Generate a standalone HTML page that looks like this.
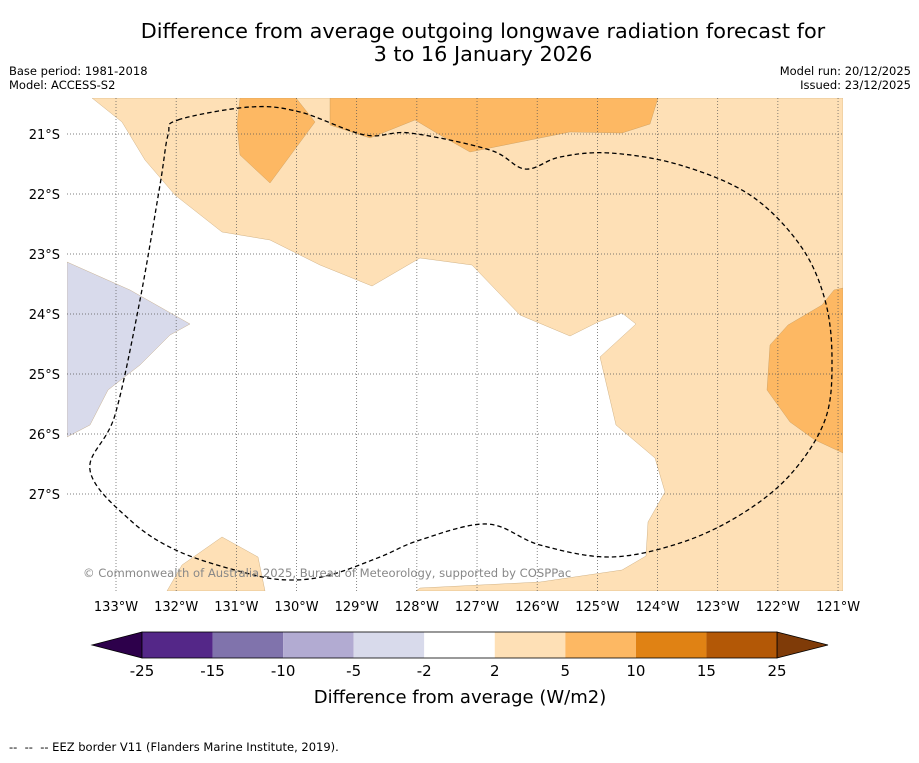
<!DOCTYPE html>
<html><head><meta charset="utf-8"><style>
body{margin:0;background:#fff;font-family:"Liberation Sans","DejaVu Sans",sans-serif;}
svg text{font-family:"DejaVu Sans","Liberation Sans",sans-serif;}
</style></head><body>
<svg id="c" width="919" height="758" xmlns="http://www.w3.org/2000/svg">
<text x="483" y="38" font-size="20.8" text-anchor="middle">Difference from average outgoing longwave radiation forecast for</text>
<text x="483" y="61" font-size="20.8" text-anchor="middle">3 to 16 January 2026</text>
<text x="9" y="75" font-size="11.5">Base period: 1981-2018</text>
<text x="9" y="89" font-size="11.5">Model: ACCESS-S2</text>
<text x="911" y="75" font-size="11.5" text-anchor="end">Model run: 20/12/2025</text>
<text x="911" y="89" font-size="11.5" text-anchor="end">Issued: 23/12/2025</text>
<g id="map"></g>
<g id="cb"></g>
<text x="460" y="703" font-size="18" text-anchor="middle">Difference from average (W/m2)</text>
<text x="9" y="751" font-size="11.5" xml:space="preserve" style="white-space:pre">--  --  -- EEZ border V11 (Flanders Marine Institute, 2019).</text>
</svg>
<script>
const lonTicks=[133,132,131,130,129,128,127,126,125,124,123,122,121];
const latTicks=[21,22,23,24,25,26,27];
const cbLevels=[-25,-15,-10,-5,-2,2,5,10,15,25];
const cbColors=['#542788','#8073ac','#b2abd2','#d8daeb','#ffffff','#fee0b6','#fdb863','#e08214','#b35806'];
const X0=67,X1=843,Y0=98,Y1=591;
function px(lon){return 116+(133-lon)*60.17;}
function py(lat){return 134+(lat-21)*60;}
function lon(x){return 133-(x-116)/60.17;}
function lat(y){return 21+(y-134)/60;}
const lightOrange=[[92,98],[122,122],[145,160],[175,195],[222,232],[270,240],[320,265],[372,286],[420,258],[472,265],[520,315],[570,336],[598,322],[622,313],[636,324],[600,357],[616,425],[655,458],[665,492],[648,522],[646,556],[622,570],[540,582],[420,588],[416,591],[843,591],[843,98]].map(p=>[lon(p[0]),lat(p[1])]);
const lightOrange2=[[167,591],[182,565],[222,537],[258,557],[265,591]].map(p=>[lon(p[0]),lat(p[1])]);
const orangeA=[[240,98],[296,98],[315,122],[270,183],[240,155],[237,125]].map(p=>[lon(p[0]),lat(p[1])]);
const orangeB=[[330,98],[658,98],[650,124],[622,133],[570,132],[470,152],[440,135],[415,120],[370,138],[330,125]].map(p=>[lon(p[0]),lat(p[1])]);
const orangeC=[[843,288],[834,290],[822,305],[788,325],[770,345],[767,390],[790,422],[815,440],[843,453]].map(p=>[lon(p[0]),lat(p[1])]);
const lilac=[[67,262],[130,290],[190,324],[170,335],[140,365],[108,390],[90,425],[67,437]].map(p=>[lon(p[0]),lat(p[1])]);
const eez=[[178,120],[250,107],[300,112],[365,135],[410,133],[490,150],[525,169],[560,157],[610,153],[680,165],[750,195],[800,245],[825,300],[832,360],[825,420],[790,475],[740,515],[680,543],[610,557],[540,545],[487,524],[420,540],[380,557],[330,575],[290,580],[250,574],[180,552],[130,520],[90,470],[115,415],[140,300],[160,185],[168,135],[178,120]].map(p=>[lon(p[0]),lat(p[1])]);
const NS='http://www.w3.org/2000/svg';
function mk(t,a,p){const e=document.createElementNS(NS,t);for(const k in a)e.setAttribute(k,a[k]);p.appendChild(e);return e;}
const map=document.getElementById('map');
const cp=mk('clipPath',{id:'clp'},map);mk('rect',{x:X0,y:Y0,width:X1-X0,height:Y1-Y0},cp);
const g=mk('g',{'clip-path':'url(#clp)'},map);
function poly(arr,fill,name){const e=mk('polygon',{points:arr.map(p=>px(p[0]).toFixed(1)+','+py(p[1]).toFixed(1)).join(' '),fill:fill,stroke:'#b08a50','stroke-width':0.3},g);

}
poly(lightOrange,'#fee0b6','anomaly-2-5-region');
poly(lightOrange2,'#fee0b6','anomaly-2-5-region-south');
poly(orangeA,'#fdb863','anomaly-5-10-region-a');
poly(orangeB,'#fdb863','anomaly-5-10-region-b');
poly(orangeC,'#fdb863','anomaly-5-10-region-c');
poly(lilac,'#d8daeb','anomaly-neg5-neg2-region');
lonTicks.forEach(l=>{const x=px(l);
const ln=mk('line',{x1:x,x2:x,y1:Y0,y2:Y1,stroke:'#555','stroke-width':0.7,'stroke-dasharray':'1,2'},map);


const t=mk('text',{x:x,y:611,'font-size':13,'text-anchor':'middle'},map);t.textContent=l+'°W';

});
latTicks.forEach(l=>{const y=py(l);
const ln=mk('line',{x1:X0,x2:X1,y1:y,y2:y,stroke:'#555','stroke-width':0.7,'stroke-dasharray':'1,2'},map);


const t=mk('text',{x:60,y:y+5,'font-size':13,'text-anchor':'end'},map);t.textContent=l+'°S';

});
// smooth closed catmull-rom path
const P=eez.slice(0,-1).map(p=>[px(p[0]),py(p[1])]);const N=P.length;
let d='M'+P[0][0].toFixed(1)+','+P[0][1].toFixed(1);
for(let i=0;i<N;i++){const p0=P[(i-1+N)%N],p1=P[i],p2=P[(i+1)%N],p3=P[(i+2)%N];
d+=' C'+(p1[0]+(p2[0]-p0[0])/6).toFixed(1)+','+(p1[1]+(p2[1]-p0[1])/6).toFixed(1)+' '+(p2[0]-(p3[0]-p1[0])/6).toFixed(1)+','+(p2[1]-(p3[1]-p1[1])/6).toFixed(1)+' '+p2[0].toFixed(1)+','+p2[1].toFixed(1);}
const e=mk('path',{d:d+'Z',fill:'none',stroke:'#000','stroke-width':1.3,'stroke-dasharray':'4.5,3'},map);


const cr=mk('text',{x:83,y:577,'font-size':11.6,fill:'#888'},map);cr.textContent='© Commonwealth of Australia 2025, Bureau of Meteorology, supported by COSPPac';


const cb=document.getElementById('cb');
const CX0=142,CX1=777,CY=632,CH=26,n=cbLevels.length-1,w=(CX1-CX0)/n;
function cx(i){return CX0+i*w;}
const lt=mk('polygon',{points:`92,645 ${CX0},${CY} ${CX0},${CY+CH}`,fill:'#2d004b',stroke:'#000','stroke-width':0.8},cb);


const rt=mk('polygon',{points:`828,645 ${CX1},${CY} ${CX1},${CY+CH}`,fill:'#7f3b08',stroke:'#000','stroke-width':0.8},cb);


cbColors.forEach((c,i)=>{const r=mk('rect',{x:cx(i),y:CY,width:w,height:CH,fill:c},cb);

});
mk('rect',{x:CX0,y:CY,width:CX1-CX0,height:CH,fill:'none',stroke:'#000','stroke-width':0.8},cb);
cbLevels.forEach((v,i)=>{const t=mk('text',{x:cx(i),y:676,'font-size':15,'text-anchor':'middle'},cb);t.textContent=v;

});
</script>
</body></html>
